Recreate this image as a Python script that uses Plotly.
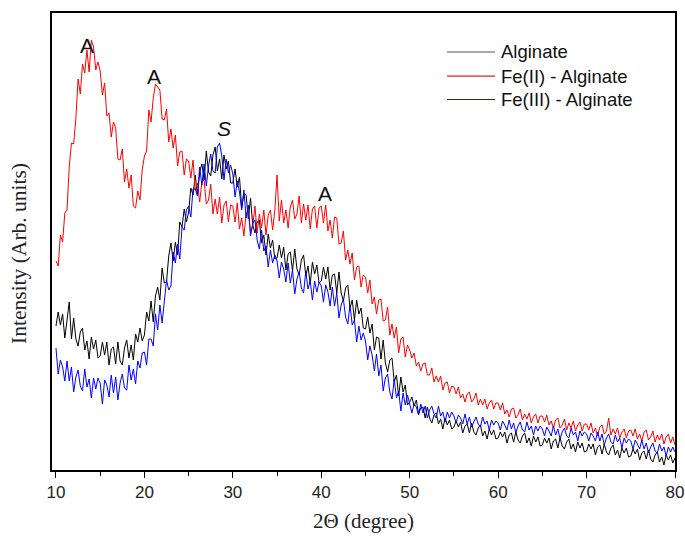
import numpy as np
import plotly.graph_objects as go

# 2-theta scan grid (degrees), 0.25 degree step
two_theta = np.arange(10, 80.001, 0.25)

# Intensities (arbitrary units); each row covers 2.5 degrees
alginate = [
    144, 158, 145, 156, 132, 148, 168, 131, 152, 131,
    124, 138, 142, 120, 129, 111, 133, 121, 130, 112,
    114, 128, 115, 128, 105, 121, 123, 106, 128, 109,
    105, 122, 130, 112, 125, 110, 136, 128, 142, 129,
    135, 158, 149, 169, 148, 174, 183, 170, 202, 187,
    188, 214, 227, 209, 228, 215, 248, 243, 261, 248,
    258, 282, 275, 295, 274, 298, 306, 290, 319, 298,
    294, 315, 323, 299, 311, 291, 315, 301, 309, 287,
    287, 301, 283, 293, 262, 277, 275, 251, 272, 245,
    237, 248, 250, 227, 235, 215, 236, 222, 230, 211,
    212, 225, 212, 223, 200, 216, 218, 199, 221, 201,
    195, 210, 215, 194, 204, 186, 208, 196, 205, 187,
    189, 203, 191, 203, 180, 195, 196, 177, 198, 177,
    169, 182, 185, 162, 170, 150, 170, 156, 162, 142,
    141, 153, 137, 146, 120, 133, 132, 111, 130, 107,
    98, 110, 112, 88, 95, 74, 93, 78, 85, 65,
    68, 73, 64, 70, 56, 62, 63, 52, 63, 52,
    47, 55, 57, 46, 51, 41, 52, 45, 50, 41,
    43, 49, 43, 48, 37, 44, 46, 37, 47, 38,
    35, 42, 45, 34, 39, 31, 41, 35, 40, 31,
    32, 38, 33, 38, 27, 35, 37, 28, 38, 30,
    27, 34, 37, 27, 32, 24, 34, 28, 33, 24,
    25, 32, 27, 32, 21, 29, 31, 22, 32, 24,
    21, 28, 31, 21, 26, 18, 28, 22, 27, 18,
    19, 26, 21, 26, 15, 23, 25, 16, 26, 18,
    15, 22, 25, 15, 20, 12, 22, 17, 22, 13,
    14, 21, 16, 21, 10, 17, 19, 11, 20, 11,
    8, 15, 18, 8, 13, 5, 15, 10, 15, 7,
    12,
]

fe2_alginate = [
    209, 204, 235, 228, 257, 260, 303, 327, 326, 352,
    391, 376, 406, 397, 420, 398, 430, 423, 400, 408,
    399, 375, 387, 354, 357, 333, 348, 342, 311, 310,
    321, 288, 301, 282, 295, 264, 262, 279, 270, 300,
    314, 319, 360, 348, 372, 386, 383, 380, 351, 350,
    361, 328, 341, 322, 335, 304, 318, 319, 295, 311,
    309, 292, 310, 280, 287, 268, 288, 290, 266, 270,
    286, 256, 271, 256, 273, 247, 265, 269, 248, 265,
    264, 248, 267, 241, 252, 234, 256, 259, 237, 244,
    264, 237, 256, 242, 260, 235, 255, 260, 240, 260,
    295, 249, 270, 247, 260, 242, 263, 270, 251, 256,
    274, 247, 266, 250, 265, 241, 261, 264, 242, 262,
    264, 247, 265, 239, 250, 232, 253, 252, 226, 227,
    239, 210, 220, 206, 217, 190, 203, 204, 183, 195,
    193, 177, 190, 166, 173, 156, 170, 171, 149, 150,
    163, 135, 146, 132, 143, 117, 131, 133, 113, 125,
    120, 112, 117, 104, 108, 99, 106, 107, 95, 95,
    102, 88, 94, 88, 94, 80, 87, 88, 77, 84,
    83, 76, 83, 72, 76, 68, 76, 78, 68, 71,
    77, 65, 71, 65, 71, 61, 67, 70, 61, 67,
    67, 60, 67, 56, 60, 53, 61, 62, 52, 55,
    61, 50, 56, 51, 57, 47, 53, 56, 47, 54,
    54, 48, 55, 45, 49, 42, 50, 52, 42, 45,
    51, 40, 47, 42, 49, 39, 45, 48, 39, 46,
    46, 40, 47, 37, 42, 34, 43, 45, 36, 39,
    52, 35, 41, 36, 42, 32, 38, 41, 32, 39,
    40, 34, 41, 31, 36, 29, 38, 40, 30, 33,
    39, 28, 35, 30, 36, 26, 33, 36, 27, 33,
    25,
]

fe3_alginate = [
    122, 96, 110, 103, 89, 109, 89, 103, 78, 93,
    100, 84, 79, 101, 83, 91, 72, 92, 81, 92,
    87, 66, 90, 85, 73, 95, 77, 93, 70, 87,
    96, 82, 80, 105, 90, 101, 86, 109, 102, 117,
    118, 105, 131, 131, 124, 156, 140, 165, 147, 172,
    190, 180, 184, 218, 207, 226, 211, 243, 240, 260,
    264, 253, 281, 281, 274, 303, 285, 306, 284, 304,
    316, 299, 297, 323, 327, 314, 290, 311, 297, 305,
    296, 273, 289, 278, 260, 280, 252, 265, 234, 247,
    250, 230, 221, 240, 219, 224, 203, 220, 207, 215,
    209, 192, 208, 201, 188, 207, 187, 200, 176, 191,
    198, 182, 177, 199, 181, 189, 170, 189, 178, 188,
    184, 168, 185, 178, 164, 183, 164, 177, 152, 165,
    171, 153, 146, 165, 145, 150, 128, 144, 130, 137,
    129, 110, 124, 115, 99, 116, 94, 105, 79, 92,
    96, 78, 71, 91, 72, 79, 59, 77, 65, 75,
    66, 57, 66, 63, 55, 66, 57, 64, 52, 60,
    64, 56, 52, 64, 54, 58, 48, 58, 52, 58,
    54, 47, 55, 52, 46, 56, 46, 53, 43, 49,
    53, 46, 43, 53, 46, 49, 40, 50, 45, 49,
    47, 40, 49, 45, 40, 50, 41, 47, 37, 44,
    48, 40, 38, 48, 40, 44, 35, 44, 39, 44,
    41, 34, 43, 39, 34, 44, 35, 41, 31, 38,
    42, 34, 32, 42, 35, 38, 29, 39, 34, 38,
    36, 29, 37, 34, 29, 38, 29, 36, 25, 32,
    36, 28, 26, 35, 28, 32, 22, 32, 27, 31,
    29, 21, 30, 26, 21, 30, 21, 27, 17, 23,
    27, 19, 17, 26, 19, 23, 14, 23, 18, 23,
    18,
]

series_names = ["Alginate", "Fe(II) - Alginate", "Fe(III) - Alginate"]
series_colors = ["#000000", "#ff0000", "#0000ff"]
legend_key_colors = ["#555555", "#e02020", "#1a1aa8"]

# Peak labels: A = alginate-related reflections, S = structural peak
peak_labels = ["A", "A", "<i>S</i>", "A"]
peak_x = [13.5, 21.1, 29.0, 40.4]
peak_y = [425, 394, 342, 277]

SANS = "Liberation Sans, Arial, sans-serif"
SERIF = "Liberation Serif, Times New Roman, serif"

fig = go.Figure()
for name, ys, col in zip(series_names, [alginate, fe2_alginate, fe3_alginate], series_colors):
    fig.add_trace(go.Scatter(
        x=two_theta, y=ys, mode="lines", name=name,
        line=dict(color=col, width=1), showlegend=False,
    ))

for txt, px, py in zip(peak_labels, peak_x, peak_y):
    fig.add_annotation(
        x=px, y=py, text=txt, showarrow=False,
        font=dict(family=SANS, size=21, color="#111111"),
        xanchor="center", yanchor="middle",
    )

# Legend drawn as key lines + labels in paper coordinates
legend_rows_y = [0.9147, 0.862, 0.8107]
for name, col, ly in zip(series_names, legend_key_colors, legend_rows_y):
    fig.add_shape(type="line", xref="paper", yref="paper",
                  x0=0.634, x1=0.711, y0=ly, y1=ly,
                  line=dict(color=col, width=1.2))
    fig.add_annotation(xref="paper", yref="paper", x=0.7175, y=ly,
                       text=name, showarrow=False, xanchor="left", yanchor="middle",
                       font=dict(family=SANS, size=18.5, color="#111111"))

# Y-axis title
fig.add_annotation(xref="paper", yref="paper", x=-0.053, y=0.475,
                   text="Intensity (Arb. units)", textangle=-90, showarrow=False,
                   xanchor="center", yanchor="middle",
                   font=dict(family=SERIF, size=21.5, color="#222222"))

fig.update_layout(
    width=685, height=539,
    margin=dict(l=52, r=10, t=13, b=69, autoexpand=False),
    paper_bgcolor="white", plot_bgcolor="white",
    showlegend=False,
)

fig.update_xaxes(
    range=[9.55, 80], tickmode="array", tickvals=[10, 20, 30, 40, 50, 60, 70, 80],
    ticks="outside", ticklen=6, tickwidth=1.2, tickcolor="#000",
    minor=dict(tickvals=[15, 25, 35, 45, 55, 65, 75], ticks="outside", ticklen=4, tickwidth=1, tickcolor="#000"),
    showline=True, linecolor="#000", linewidth=1.5, mirror=True,
    showgrid=False, zeroline=False, automargin=False,
    tickfont=dict(family=SANS, size=17, color="#222"),
    title=dict(text="2\u0398 (degree)", standoff=12,
               font=dict(family=SERIF, size=21, color="#222")),
)
fig.update_yaxes(
    range=[0, 457], showticklabels=False, ticks="",
    showline=True, linecolor="#000", linewidth=1.5, mirror=True,
    showgrid=False, zeroline=False, automargin=False,
)

fig.write_html("out.html")
